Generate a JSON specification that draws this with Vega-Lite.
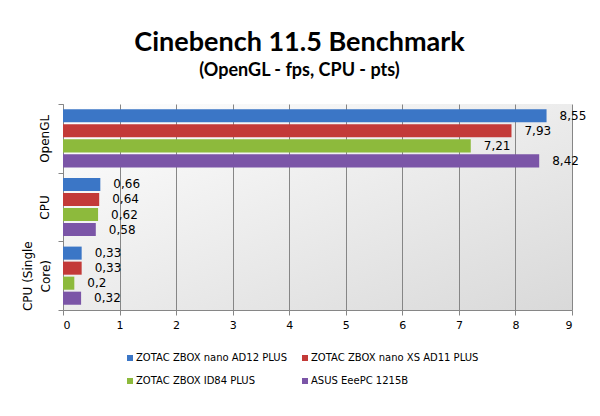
{
  "$schema": "https://vega.github.io/schema/vega-lite/v6.json",
  "width": 509,
  "height": 206,
  "autosize": {"type": "none"},
  "padding": {"left": 63, "top": 104, "right": 28, "bottom": 106},
  "background": "white",
  "title": {
    "text": "Cinebench 11.5 Benchmark",
    "subtitle": "(OpenGL - fps, CPU - pts)",
    "font": "Lato",
    "fontSize": 27,
    "fontWeight": "bold",
    "color": "black",
    "subtitleFont": "Lato",
    "subtitleFontSize": 18,
    "subtitleFontWeight": "bold",
    "subtitleColor": "black",
    "anchor": "middle",
    "dx": -18,
    "offset": 23,
    "subtitlePadding": 5
  },
  "config": {
    "locale": {"number": {"decimal": ",", "thousands": ".", "grouping": [3], "currency": ["", " €"]}},
    "view": {
      "stroke": null,
      "fill": {
        "gradient": "linear", "x1": 0, "y1": 0, "x2": 1, "y2": 1,
        "stops": [{"offset": 0, "color": "#ffffff"}, {"offset": 1, "color": "#d9d9d9"}]
      }
    },
    "font": "DejaVu Sans"
  },
  "data": {
    "values": [
      {"test": "OpenGL", "system": "ZOTAC ZBOX nano AD12 PLUS", "value": 8.55},
      {"test": "OpenGL", "system": "ZOTAC ZBOX nano XS AD11 PLUS", "value": 7.93},
      {"test": "OpenGL", "system": "ZOTAC ZBOX ID84 PLUS", "value": 7.21},
      {"test": "OpenGL", "system": "ASUS EeePC 1215B", "value": 8.42},
      {"test": "CPU", "system": "ZOTAC ZBOX nano AD12 PLUS", "value": 0.66},
      {"test": "CPU", "system": "ZOTAC ZBOX nano XS AD11 PLUS", "value": 0.64},
      {"test": "CPU", "system": "ZOTAC ZBOX ID84 PLUS", "value": 0.62},
      {"test": "CPU", "system": "ASUS EeePC 1215B", "value": 0.58},
      {"test": "CPU (Single Core)", "system": "ZOTAC ZBOX nano AD12 PLUS", "value": 0.33},
      {"test": "CPU (Single Core)", "system": "ZOTAC ZBOX nano XS AD11 PLUS", "value": 0.33},
      {"test": "CPU (Single Core)", "system": "ZOTAC ZBOX ID84 PLUS", "value": 0.2},
      {"test": "CPU (Single Core)", "system": "ASUS EeePC 1215B", "value": 0.32}
    ]
  },
  "encoding": {
    "y": {
      "field": "test",
      "type": "nominal",
      "sort": ["OpenGL", "CPU", "CPU (Single Core)"],
      "scale": {"paddingInner": 0, "paddingOuter": 0},
      "axis": {
        "title": null,
        "tickBand": "extent",
        "labelAngle": -90,
        "labelAlign": "center",
        "labelBaseline": "middle",
        "labelExpr": "datum.value == 'CPU (Single Core)' ? ['CPU (Single', 'Core)'] : datum.value",
        "labelFont": "DejaVu Sans",
        "labelFontSize": 12,
        "labelColor": "black",
        "labelLineHeight": 18,
        "labelPadding": {"condition": {"test": "datum.value == 'CPU (Single Core)'", "value": 31}, "value": 14},
        "domainColor": "#868686",
        "tickColor": "#868686",
        "tickSize": 5,
        "grid": false
      }
    },
    "yOffset": {
      "field": "system",
      "type": "nominal",
      "sort": ["ZOTAC ZBOX nano AD12 PLUS", "ZOTAC ZBOX nano XS AD11 PLUS", "ZOTAC ZBOX ID84 PLUS", "ASUS EeePC 1215B"],
      "scale": {"paddingInner": 0.13, "paddingOuter": 0.35}
    },
    "x": {
      "field": "value",
      "type": "quantitative",
      "scale": {"domain": [0, 9], "nice": false},
      "axis": {
        "title": null,
        "values": [0, 1, 2, 3, 4, 5, 6, 7, 8, 9],
        "format": "d",
        "grid": true,
        "gridColor": "#868686",
        "gridWidth": 1,
        "domainColor": "#868686",
        "tickColor": "#868686",
        "tickSize": 5,
        "labelFont": "DejaVu Sans",
        "labelFontSize": 11,
        "labelColor": "black",
        "labelPadding": 4
      }
    }
  },
  "layer": [
    {
      "mark": {"type": "bar", "cornerRadius": 0},
      "encoding": {
        "color": {
          "field": "system",
          "type": "nominal",
          "sort": ["ZOTAC ZBOX nano AD12 PLUS", "ZOTAC ZBOX nano XS AD11 PLUS", "ZOTAC ZBOX ID84 PLUS", "ASUS EeePC 1215B"],
          "scale": {"range": ["#3b76c6", "#c33a38", "#8dba3c", "#7b55a7"]},
          "legend": {
            "title": null,
            "orient": "none",
            "legendX": 62,
            "legendY": 249,
            "columns": 2,
            "direction": "horizontal",
            "columnPadding": 13,
            "rowPadding": 13,
            "symbolType": "square",
            "symbolSize": 36,
            "symbolStrokeWidth": 0,
            "labelFont": "DejaVu Sans",
            "labelFontSize": 10,
            "labelColor": "black",
            "labelLimit": 300,
            "labelOffset": 1
          }
        }
      }
    },
    {
      "mark": {"type": "text", "align": "left", "baseline": "middle", "dx": 13, "font": "DejaVu Sans", "fontSize": 12, "color": "black"},
      "encoding": {
        "text": {"field": "value", "type": "quantitative", "format": ".2~f"}
      }
    }
  ]
}
